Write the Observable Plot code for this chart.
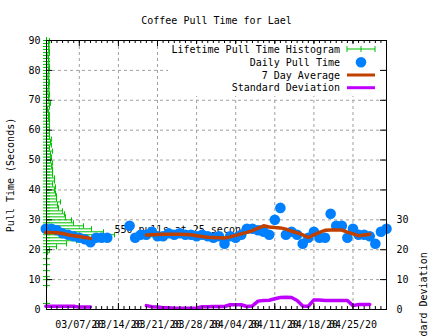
<!DOCTYPE html>
<html><head><meta charset="utf-8">
<script src="https://cdn.jsdelivr.net/npm/d3@7"></script>
<script src="https://cdn.jsdelivr.net/npm/@observablehq/plot@0.6"></script>
<style>
html,body{margin:0;padding:0;background:#fff;width:448px;height:336px;overflow:hidden;}
#wrap{position:relative;width:448px;height:336px;}
#legend{position:absolute;left:168px;top:44px;background:#fff;}
</style></head><body><div id="wrap"></div>
<script>
const titleText = "Coffee Pull Time for Lael";
const yLabel = "Pull Time (Seconds)";
const y2Label = "Standard Deviation";
const legendLabels = ["Lifetime Pull Time Histogram", "Daily Pull Time", "7 Day Average", "Standard Deviation"];

const days = [
 "2020-03-01","2020-03-02","2020-03-03","2020-03-04","2020-03-05","2020-03-06","2020-03-07","2020-03-08","2020-03-09","2020-03-10",
 "2020-03-11","2020-03-12","2020-03-13","2020-03-14","2020-03-15","2020-03-16","2020-03-17","2020-03-18","2020-03-19","2020-03-20",
 "2020-03-21","2020-03-22","2020-03-23","2020-03-24","2020-03-25","2020-03-26","2020-03-27","2020-03-28","2020-03-29","2020-03-30",
 "2020-03-31","2020-04-01","2020-04-02","2020-04-03","2020-04-04","2020-04-05","2020-04-06","2020-04-07","2020-04-08","2020-04-09",
 "2020-04-10","2020-04-11","2020-04-12","2020-04-13","2020-04-14","2020-04-15","2020-04-16","2020-04-17","2020-04-18","2020-04-19",
 "2020-04-20","2020-04-21","2020-04-22","2020-04-23","2020-04-24","2020-04-25","2020-04-26","2020-04-27","2020-04-28","2020-04-29",
 "2020-04-30","2020-05-01"];
const pullTime = [
 27,27,26.5,25.5,25,24.5,24,23.5,22.5,24,
 24,24,null,null,null,28,24,25,25,26,
 24.5,24.5,25.5,25,25.5,25,25,24.5,25,24.5,
 24,24.5,22,24.5,24,25,27,27,26.5,26,
 25,30,34,25,26,25,22,24,26,24,
 24,32,28,28,24,27,25,25,24.5,22,
 26,27];
const avg7 = [
 25.8,25.8,25.7,25.4,25.0,24.7,24.4,24.1,23.8,null,
 null,null,null,null,null,null,null,null,24.9,25.0,
 25.1,25.2,25.2,25.2,25.2,25.1,25.0,24.7,24.4,24.2,
 24.1,24.0,23.9,24.3,24.8,25.3,25.8,26.4,27.2,28.0,
 27.6,27.4,27.3,26.9,26.2,25.7,25.0,24.1,25.0,25.8,
 26.5,26.6,26.6,26.6,25.9,25.3,24.7,24.9,25.2,null,
 null,null];
const stdDev = [
 1.1,1.1,1.1,1.1,1.1,1.1,0.8,0.8,0.8,null,
 null,null,null,null,null,null,null,null,1.3,0.9,
 0.8,0.6,0.6,0.4,0.4,0.4,0.4,0.5,0.9,0.9,
 1.0,1.0,1.0,1.6,1.6,1.6,1.0,1.2,2.8,3.0,
 3.1,3.6,4.0,4.1,4.0,3.0,1.2,1.1,3.2,3.2,
 3.0,3.0,3.0,3.0,3.0,1.3,1.7,1.7,1.7,null,
 null,null];

const histSeconds = [2,8,10,11,13,15,17,19,20,21,22,23,24,25,26,27,28,29,30,31,32,33,34,35,36,37,38,39,40,
 41,42,43,44,45,46,47,48,49,50,51,52,53,54,55,56,57,58,59,60,61,62,63,64,65,66,67,68,69,70,
 71,72,73,74,75,76,77,78,79,80,81,82,83,84,85,86,87,88,89,90];
const histCounts = [2,2,2,2,2,2,2,8,24,81,162,243,380,550,461,364,299,218,202,154,146,129,97,89,113,81,81,73,65,
 73,49,65,65,49,49,49,40,49,32,40,32,49,24,40,32,40,24,24,24,24,24,24,16,24,16,8,24,32,20,
 16,24,12,20,16,24,18,12,20,16,24,14,20,16,12,24,18,20,16,24];

const weekTicks = ["2020-03-07","2020-03-14","2020-03-21","2020-03-28","2020-04-04","2020-04-11","2020-04-18","2020-04-25"];
const leftTicks = [0,10,20,30,40,50,60,70,80,90];
const gridYTicks = [10,20,30,40,50,60,70,80];
const rightTicks = [0,10,20,30];

const C_GREEN = "#00c000", C_BLUE = "#0080ff", C_AVG = "#c04000", C_SD = "#c000ff";
const parse = d3.utcParse("%Y-%m-%d");
const xStart = new Date(Date.UTC(2020,2,1,3));
const xEnd = new Date(Date.UTC(2020,4,1,0));
const histDaysPerPull = 0.02214;
const DAY = 86400000;

const series = days.map((d,i) => ({date: parse(d), pull: pullTime[i], avg: avg7[i], sd: stdDev[i]}));
const hist = histSeconds.map((s,i) => ({sec: s, count: histCounts[i], x1: xStart, x2: new Date(+xStart + histCounts[i]*histDaysPerPull*DAY)}));
const weeks = weekTicks.map(parse);
const minorDays = d3.utcDay.range(xStart, xEnd);
const peak = hist.filter(d => d.count === d3.max(histCounts));

const vbar = {draw(ctx, size){ const r = Math.sqrt(size/Math.PI); ctx.moveTo(0,-r); ctx.lineTo(0,r);} };
const plus = {draw(ctx, size){ const r = Math.sqrt(size/Math.PI); ctx.moveTo(0,-r); ctx.lineTo(0,r); ctx.moveTo(-r,0); ctx.lineTo(r,0);} };

const W = 448, H = 336, ML = 46, MR = 62, MT = 40, MB = 27;
const FW = W-ML-MR, FH = H-MT-MB;

const chart = Plot.plot({
  width: W, height: H,
  marginLeft: ML, marginRight: MR, marginTop: MT, marginBottom: MB,
  style: {fontFamily: "'DejaVu Sans Mono', monospace", fontSize: "10px", background: "#fff", overflow: "visible", color: "#000"},
  x: {type: "utc", domain: [xStart, xEnd]},
  y: {domain: [0, 90]},
  marks: [
    Plot.gridX(weeks, {stroke: "#a0a0a0", strokeOpacity: 1, strokeDasharray: "3,3"}),
    Plot.gridY(gridYTicks, {stroke: "#a0a0a0", strokeOpacity: 1, strokeDasharray: "3,3"}),
    Plot.ruleY(hist, {y: "sec", x1: "x1", x2: "x2", stroke: C_GREEN, strokeWidth: 1}),
    Plot.dot(hist, {x: "x2", y: "sec", symbol: vbar, r: 2.6, stroke: C_GREEN, fill: "none", strokeWidth: 1}),
    Plot.dot(hist, {x: "x1", y: "sec", symbol: plus, r: 3.5, stroke: C_GREEN, fill: "none", strokeWidth: 1}),
    Plot.text(peak, {x: "x2", y: "sec", text: d => `${d.count} pulls at ${d.sec} seconds`, textAnchor: "start", lineAnchor: "middle", dy: -4.5, fill: "#000"}),
    Plot.dot(series, {x: "date", y: "pull", r: 5.3, fill: C_BLUE, stroke: "none"}),
    Plot.line(series, {x: "date", y: "avg", stroke: C_AVG, strokeWidth: 3.5}),
    Plot.line(series, {x: "date", y: "sd", stroke: C_SD, strokeWidth: 3.5}),
    Plot.frame({stroke: "#000"}),
    Plot.tickX(minorDays, {x: d => d, insetTop: FH-3, stroke: "#000"}),
    Plot.tickX(minorDays, {x: d => d, insetBottom: FH-3, stroke: "#000"}),
    Plot.tickX(weeks, {x: d => d, insetTop: FH-6, stroke: "#000"}),
    Plot.tickX(weeks, {x: d => d, insetBottom: FH-6, stroke: "#000"}),
    Plot.tickY(leftTicks, {y: d => d, insetRight: FW-6, stroke: "#000"}),
    Plot.tickY(leftTicks, {y: d => d, insetLeft: FW-6, stroke: "#000"}),
    Plot.axisX(weeks, {tickFormat: d3.utcFormat("%m/%d/%y"), tickSize: 0, tickPadding: 11, label: null}),
    Plot.axisY(leftTicks, {anchor: "left", tickSize: 0, tickPadding: 6, label: null}),
    Plot.axisY(rightTicks, {anchor: "right", tickSize: 0, tickPadding: 10, label: null}),
    Plot.text([titleText], {frameAnchor: "top", dy: -20, textAnchor: "middle", lineAnchor: "middle", fill: "#000"}),
    Plot.text([yLabel], {frameAnchor: "left", dx: -36, rotate: -90, textAnchor: "middle", lineAnchor: "middle", fill: "#000"}),
    Plot.text([y2Label], {frameAnchor: "bottom-right", dx: 37, dy: -3, rotate: -90, textAnchor: "middle", lineAnchor: "middle", fill: "#000"})
  ]
});
const wrap = document.getElementById("wrap");
wrap.appendChild(chart);

// legend (inside plot, top-right, opaque white box)
const lg = d3.select(wrap).append("svg").attr("id","legend").attr("width",211).attr("height",52)
  .attr("font-family","'DejaVu Sans Mono', monospace").attr("font-size",10);
const rowY = [5, 18.3, 31, 43.7];
legendLabels.forEach((t,i) => {
  lg.append("text").attr("x",172).attr("y",rowY[i]).attr("text-anchor","end").attr("dy","0.35em").attr("fill","#000").text(t);
});
const g0 = lg.append("g").attr("stroke",C_GREEN).attr("fill","none");
g0.append("line").attr("x1",179).attr("x2",207).attr("y1",rowY[0]).attr("y2",rowY[0]);
g0.append("line").attr("x1",179).attr("x2",179).attr("y1",rowY[0]-3).attr("y2",rowY[0]+3);
g0.append("line").attr("x1",207).attr("x2",207).attr("y1",rowY[0]-3).attr("y2",rowY[0]+3);
g0.append("line").attr("x1",193).attr("x2",193).attr("y1",rowY[0]-3).attr("y2",rowY[0]+3);
lg.append("circle").attr("cx",193).attr("cy",rowY[1]).attr("r",5.3).attr("fill",C_BLUE);
lg.append("line").attr("x1",179).attr("x2",207).attr("y1",rowY[2]).attr("y2",rowY[2]).attr("stroke",C_AVG).attr("stroke-width",3);
lg.append("line").attr("x1",179).attr("x2",207).attr("y1",rowY[3]).attr("y2",rowY[3]).attr("stroke",C_SD).attr("stroke-width",3);
</script></body></html>
